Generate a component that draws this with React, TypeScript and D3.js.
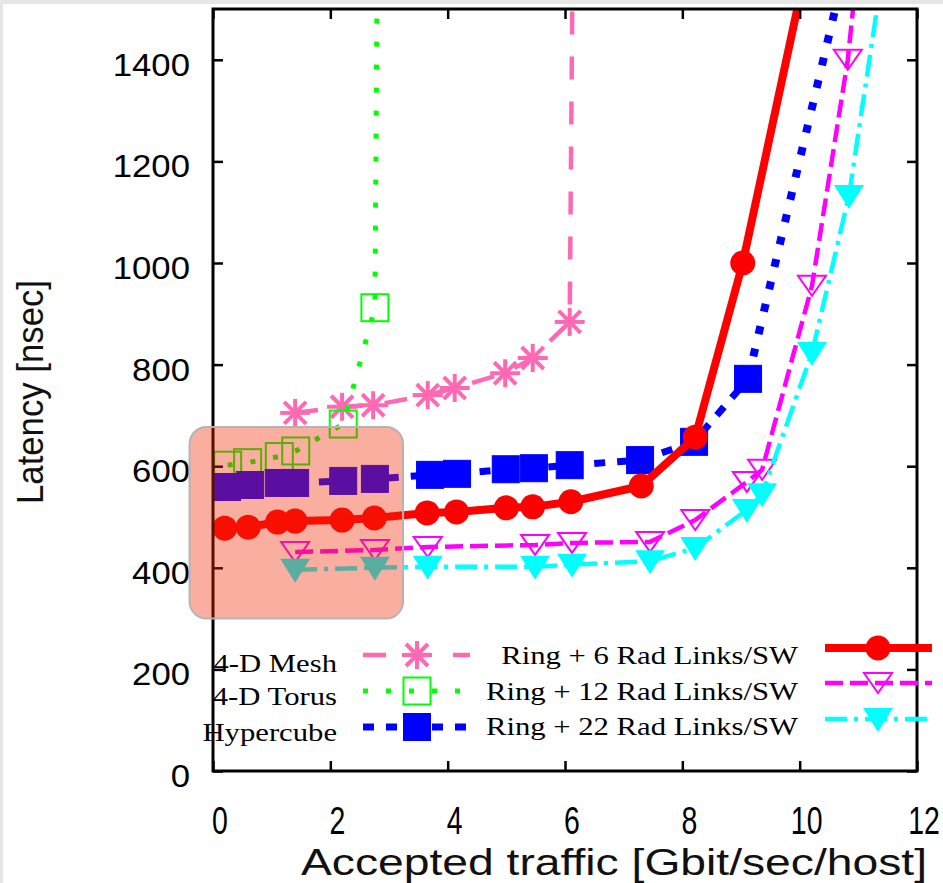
import React, { useEffect, useRef } from "react";
import * as d3 from "d3";

// values (traffic in Gbit/sec/host, latency in nsec)
const meshTraffic = [1.4, 2.2, 2.73, 3.66, 4.12, 4.98, 5.45, 6.08, 6.13];
const meshLatency = [705, 717, 720, 740, 754, 783, 813, 884, 1600];

const torusTraffic = [0.25, 0.59, 1.13, 1.41, 2.22, 2.76, 2.8];
const torusLatency = [602, 607, 619, 630, 683, 912, 1600];

const cubeTraffic = [0.24, 0.63, 1.12, 1.4, 2.22, 2.76, 3.7, 4.16, 4.99, 5.47, 6.08, 7.28, 8.2, 9.12, 10.75];
const cubeLatency = [559, 563, 567, 567, 571, 575, 583, 585, 594, 596, 602, 612, 648, 772, 1570];

const ring6Traffic = [0.2, 0.6, 1.1, 1.4, 2.2, 2.75, 3.65, 4.15, 5.0, 5.45, 6.1, 7.3, 8.22, 9.03, 10.2];
const ring6Latency = [478, 480, 490, 492, 494, 498, 508, 510, 518, 520, 530, 561, 657, 1000, 1630];

const ring12Traffic = [1.4, 2.76, 3.66, 5.49, 6.12, 7.45, 8.22, 9.1, 9.36, 10.21, 10.82, 11.0];
const ring12Latency = [431, 435, 441, 445, 449, 451, 494, 569, 593, 955, 1400, 1600];

const ring22Traffic = [1.4, 2.76, 3.66, 5.49, 6.12, 7.45, 8.22, 9.1, 9.36, 10.21, 10.84, 11.5];
const ring22Latency = [396, 400, 402, 402, 406, 413, 439, 514, 545, 823, 1132, 1640];

const xTicks = [0, 2, 4, 6, 8, 10, 12];
const yTicks = [0, 200, 400, 600, 800, 1000, 1200, 1400];

// shaded box in data units
const highlightX = [-0.4, 3.24];
const highlightY = [300, 677];

const leftLegend = ["4-D Mesh", "4-D Torus", "Hypercube"];
const rightLegend = ["Ring + 6 Rad Links/SW", "Ring + 12 Rad Links/SW", "Ring + 22 Rad Links/SW"];

type Marker = "asterisk" | "openSquare" | "square" | "circle" | "openTriangle" | "triangle";

interface Series {
  xs: number[];
  ys: number[];
  color: string;
  width: number;
  dash: string | null;
  marker: Marker;
}

const series: Series[] = [
  { xs: meshTraffic, ys: meshLatency, color: "#ff69b4", width: 4.5, dash: "23,22", marker: "asterisk" },
  { xs: torusTraffic, ys: torusLatency, color: "#00ff00", width: 5, dash: "5,18", marker: "openSquare" },
  { xs: cubeTraffic, ys: cubeLatency, color: "#0000ff", width: 7, dash: "11,12", marker: "square" },
  { xs: ring6Traffic, ys: ring6Latency, color: "#ff0000", width: 8, dash: null, marker: "circle" },
  { xs: ring12Traffic, ys: ring12Latency, color: "#ff00ff", width: 4.5, dash: "18,7", marker: "openTriangle" },
  { xs: ring22Traffic, ys: ring22Latency, color: "#00ffff", width: 4.5, dash: "22,7,4,7", marker: "triangle" },
];

function drawMarker(g: any, kind: Marker, cx: number, cy: number, color: string) {
  if (kind === "asterisk") {
    const arms = [[-15, 0, 15, 0], [0, -14, 0, 14], [-11, -11, 11, 11], [-11, 11, 11, -11]];
    arms.forEach(a => {
      g.append("line")
        .attr("x1", cx + a[0]).attr("y1", cy + a[1])
        .attr("x2", cx + a[2]).attr("y2", cy + a[3])
        .attr("stroke", color).attr("stroke-width", 4);
    });
  } else if (kind === "openSquare" || kind === "square") {
    g.append("rect")
      .attr("x", cx - 13.5).attr("y", cy - 13.5)
      .attr("width", 27).attr("height", 27)
      .attr("fill", kind === "square" ? color : "none")
      .attr("stroke", color).attr("stroke-width", kind === "square" ? 1 : 2);
  } else if (kind === "circle") {
    g.append("circle").attr("cx", cx).attr("cy", cy).attr("r", 12.5).attr("fill", color);
  } else if (kind === "openTriangle") {
    g.append("path")
      .attr("d", `M${cx - 14},${cy - 10}L${cx + 14},${cy - 10}L${cx},${cy + 10}Z`)
      .attr("fill", "none").attr("stroke", color).attr("stroke-width", 2);
  } else {
    g.append("path")
      .attr("d", `M${cx - 15},${cy - 11}L${cx + 15},${cy - 11}L${cx},${cy + 13}Z`)
      .attr("fill", color);
  }
}

export default function App() {
  const ref = useRef<SVGSVGElement>(null);

  useEffect(() => {
    const width = 943;
    const height = 883;
    const margin = { top: 9, right: 26, bottom: 112, left: 213 };

    const svg = d3.select(ref.current);
    svg.selectAll("*").remove();

    // page frame: thin grey strip on top and left
    svg.append("rect").attr("width", width).attr("height", height).attr("fill", "#e6e6e6");
    svg.append("rect").attr("x", 3).attr("y", 4).attr("width", width - 3).attr("height", height - 4).attr("fill", "#ffffff");

    const x = d3.scaleLinear().domain([0, 12]).range([margin.left, width - margin.right]);
    const y = d3.scaleLinear().domain([0, 1500]).range([height - margin.bottom, margin.top]);

    svg.append("defs").append("clipPath").attr("id", "plot-clip")
      .append("rect")
      .attr("x", x(0)).attr("y", y(1500))
      .attr("width", x(12) - x(0)).attr("height", y(0) - y(1500));

    const plot = svg.append("g").attr("clip-path", "url(#plot-clip)");

    series.forEach((s, si) => {
      const pts: [number, number][] = s.xs.map((v, i) => [x(v), y(s.ys[i])]);
      const gen = d3.line<[number, number]>();
      if (si === 2) {
        // hypercube: dashed at low load, dotted on the steep part
        const split = 13;
        plot.append("path").attr("d", gen(pts.slice(0, split + 1)))
          .attr("fill", "none").attr("stroke", s.color).attr("stroke-width", s.width)
          .attr("stroke-dasharray", s.dash);
        plot.append("path").attr("d", gen(pts.slice(split)))
          .attr("fill", "none").attr("stroke", s.color).attr("stroke-width", s.width + 1)
          .attr("stroke-dasharray", "8,15");
      } else {
        plot.append("path").attr("d", gen(pts))
          .attr("fill", "none").attr("stroke", s.color).attr("stroke-width", s.width)
          .attr("stroke-linejoin", "round")
          .attr("stroke-dasharray", s.dash);
      }
      pts.forEach(p => drawMarker(plot, s.marker, p[0], p[1], s.color));
    });

    // axes with inward ticks on all four sides
    const tickStyle = (g: any) => {
      g.select(".domain").remove();
      g.selectAll(".tick line").attr("stroke", "#000").attr("stroke-width", 2.5);
    };
    svg.append("g").attr("transform", `translate(${x(0)},0)`)
      .call(d3.axisLeft(y).tickValues(yTicks).tickSize(-10).tickFormat(() => "")).call(tickStyle);
    svg.append("g").attr("transform", `translate(${x(12)},0)`)
      .call(d3.axisRight(y).tickValues(yTicks).tickSize(-10).tickFormat(() => "")).call(tickStyle);
    svg.append("g").attr("transform", `translate(0,${y(0)})`)
      .call(d3.axisBottom(x).tickValues(xTicks).tickSize(-10).tickFormat(() => "")).call(tickStyle);
    svg.append("g").attr("transform", `translate(0,${y(1500)})`)
      .call(d3.axisTop(x).tickValues(xTicks).tickSize(-10).tickFormat(() => "")).call(tickStyle);

    svg.append("rect")
      .attr("x", x(0)).attr("y", y(1500))
      .attr("width", x(12) - x(0)).attr("height", y(0) - y(1500))
      .attr("fill", "none").attr("stroke", "#000").attr("stroke-width", 3);

    // tick labels
    yTicks.forEach(t => {
      svg.append("text")
        .attr("transform", `translate(190,${y(t) + 16}) scale(1.12,1)`)
        .attr("text-anchor", "end")
        .attr("font-family", "Liberation Sans, Arial, sans-serif")
        .attr("font-size", 31)
        .text(t);
    });
    xTicks.forEach(t => {
      svg.append("text")
        .attr("transform", `translate(${x(t) + 7},834) scale(0.73,1)`)
        .attr("text-anchor", "middle")
        .attr("font-family", "Liberation Sans, Arial, sans-serif")
        .attr("font-size", 39)
        .text(t);
    });

    // axis titles
    svg.append("text")
      .attr("x", 614).attr("y", 875)
      .attr("text-anchor", "middle")
      .attr("font-family", "Liberation Sans, Arial, sans-serif")
      .attr("font-size", 36)
      .attr("fill", "#111")
      .attr("textLength", 626).attr("lengthAdjust", "spacingAndGlyphs")
      .text("Accepted traffic [Gbit/sec/host]");
    svg.append("text")
      .attr("transform", "translate(43,392) rotate(-90)")
      .attr("text-anchor", "middle")
      .attr("font-family", "Liberation Sans, Arial, sans-serif")
      .attr("font-size", 36)
      .attr("fill", "#111")
      .attr("textLength", 224).attr("lengthAdjust", "spacingAndGlyphs")
      .text("Latency [nsec]");

    // translucent highlight box
    svg.append("rect")
      .attr("x", x(highlightX[0])).attr("y", y(highlightY[1]))
      .attr("width", x(highlightX[1]) - x(highlightX[0]))
      .attr("height", y(highlightY[0]) - y(highlightY[1]))
      .attr("rx", 17)
      .attr("fill", "rgb(239,40,3)").attr("fill-opacity", 0.376)
      .attr("stroke", "#b4b4b4").attr("stroke-width", 2);

    // legend
    const legendRows = [
      { label: leftLegend[0], s: series[0], textX: 337, baseline: 672, lineX: [363, 470], markerX: 417, markerY: 655 },
      { label: leftLegend[1], s: series[1], textX: 337, baseline: 705, lineX: [363, 470], markerX: 417, markerY: 691 },
      { label: leftLegend[2], s: series[2], textX: 337, baseline: 741, lineX: [363, 470], markerX: 417, markerY: 727 },
      { label: rightLegend[0], s: series[3], textX: 798, baseline: 664, lineX: [825, 932], markerX: 878, markerY: 648 },
      { label: rightLegend[1], s: series[4], textX: 798, baseline: 700, lineX: [825, 932], markerX: 878, markerY: 683 },
      { label: rightLegend[2], s: series[5], textX: 798, baseline: 735, lineX: [825, 932], markerX: 878, markerY: 719 },
    ];
    const legend = svg.append("g");
    legendRows.forEach(r => {
      legend.append("text")
        .attr("transform", `translate(${r.textX},${r.baseline}) scale(1.18,1)`)
        .attr("text-anchor", "end")
        .attr("font-family", "Liberation Serif, Times New Roman, serif")
        .attr("font-size", 26)
        .text(r.label);
      legend.append("line")
        .attr("x1", r.lineX[0]).attr("x2", r.lineX[1])
        .attr("y1", r.markerY).attr("y2", r.markerY)
        .attr("stroke", r.s.color).attr("stroke-width", r.s.width)
        .attr("stroke-dasharray", r.s.dash);
      drawMarker(legend, r.s.marker, r.markerX, r.markerY, r.s.color);
    });
  }, []);

  return (
    <svg
      ref={ref}
      width={943}
      height={883}
      style={{ position: "absolute", left: 0, top: 0, display: "block" }}
    />
  );
}
